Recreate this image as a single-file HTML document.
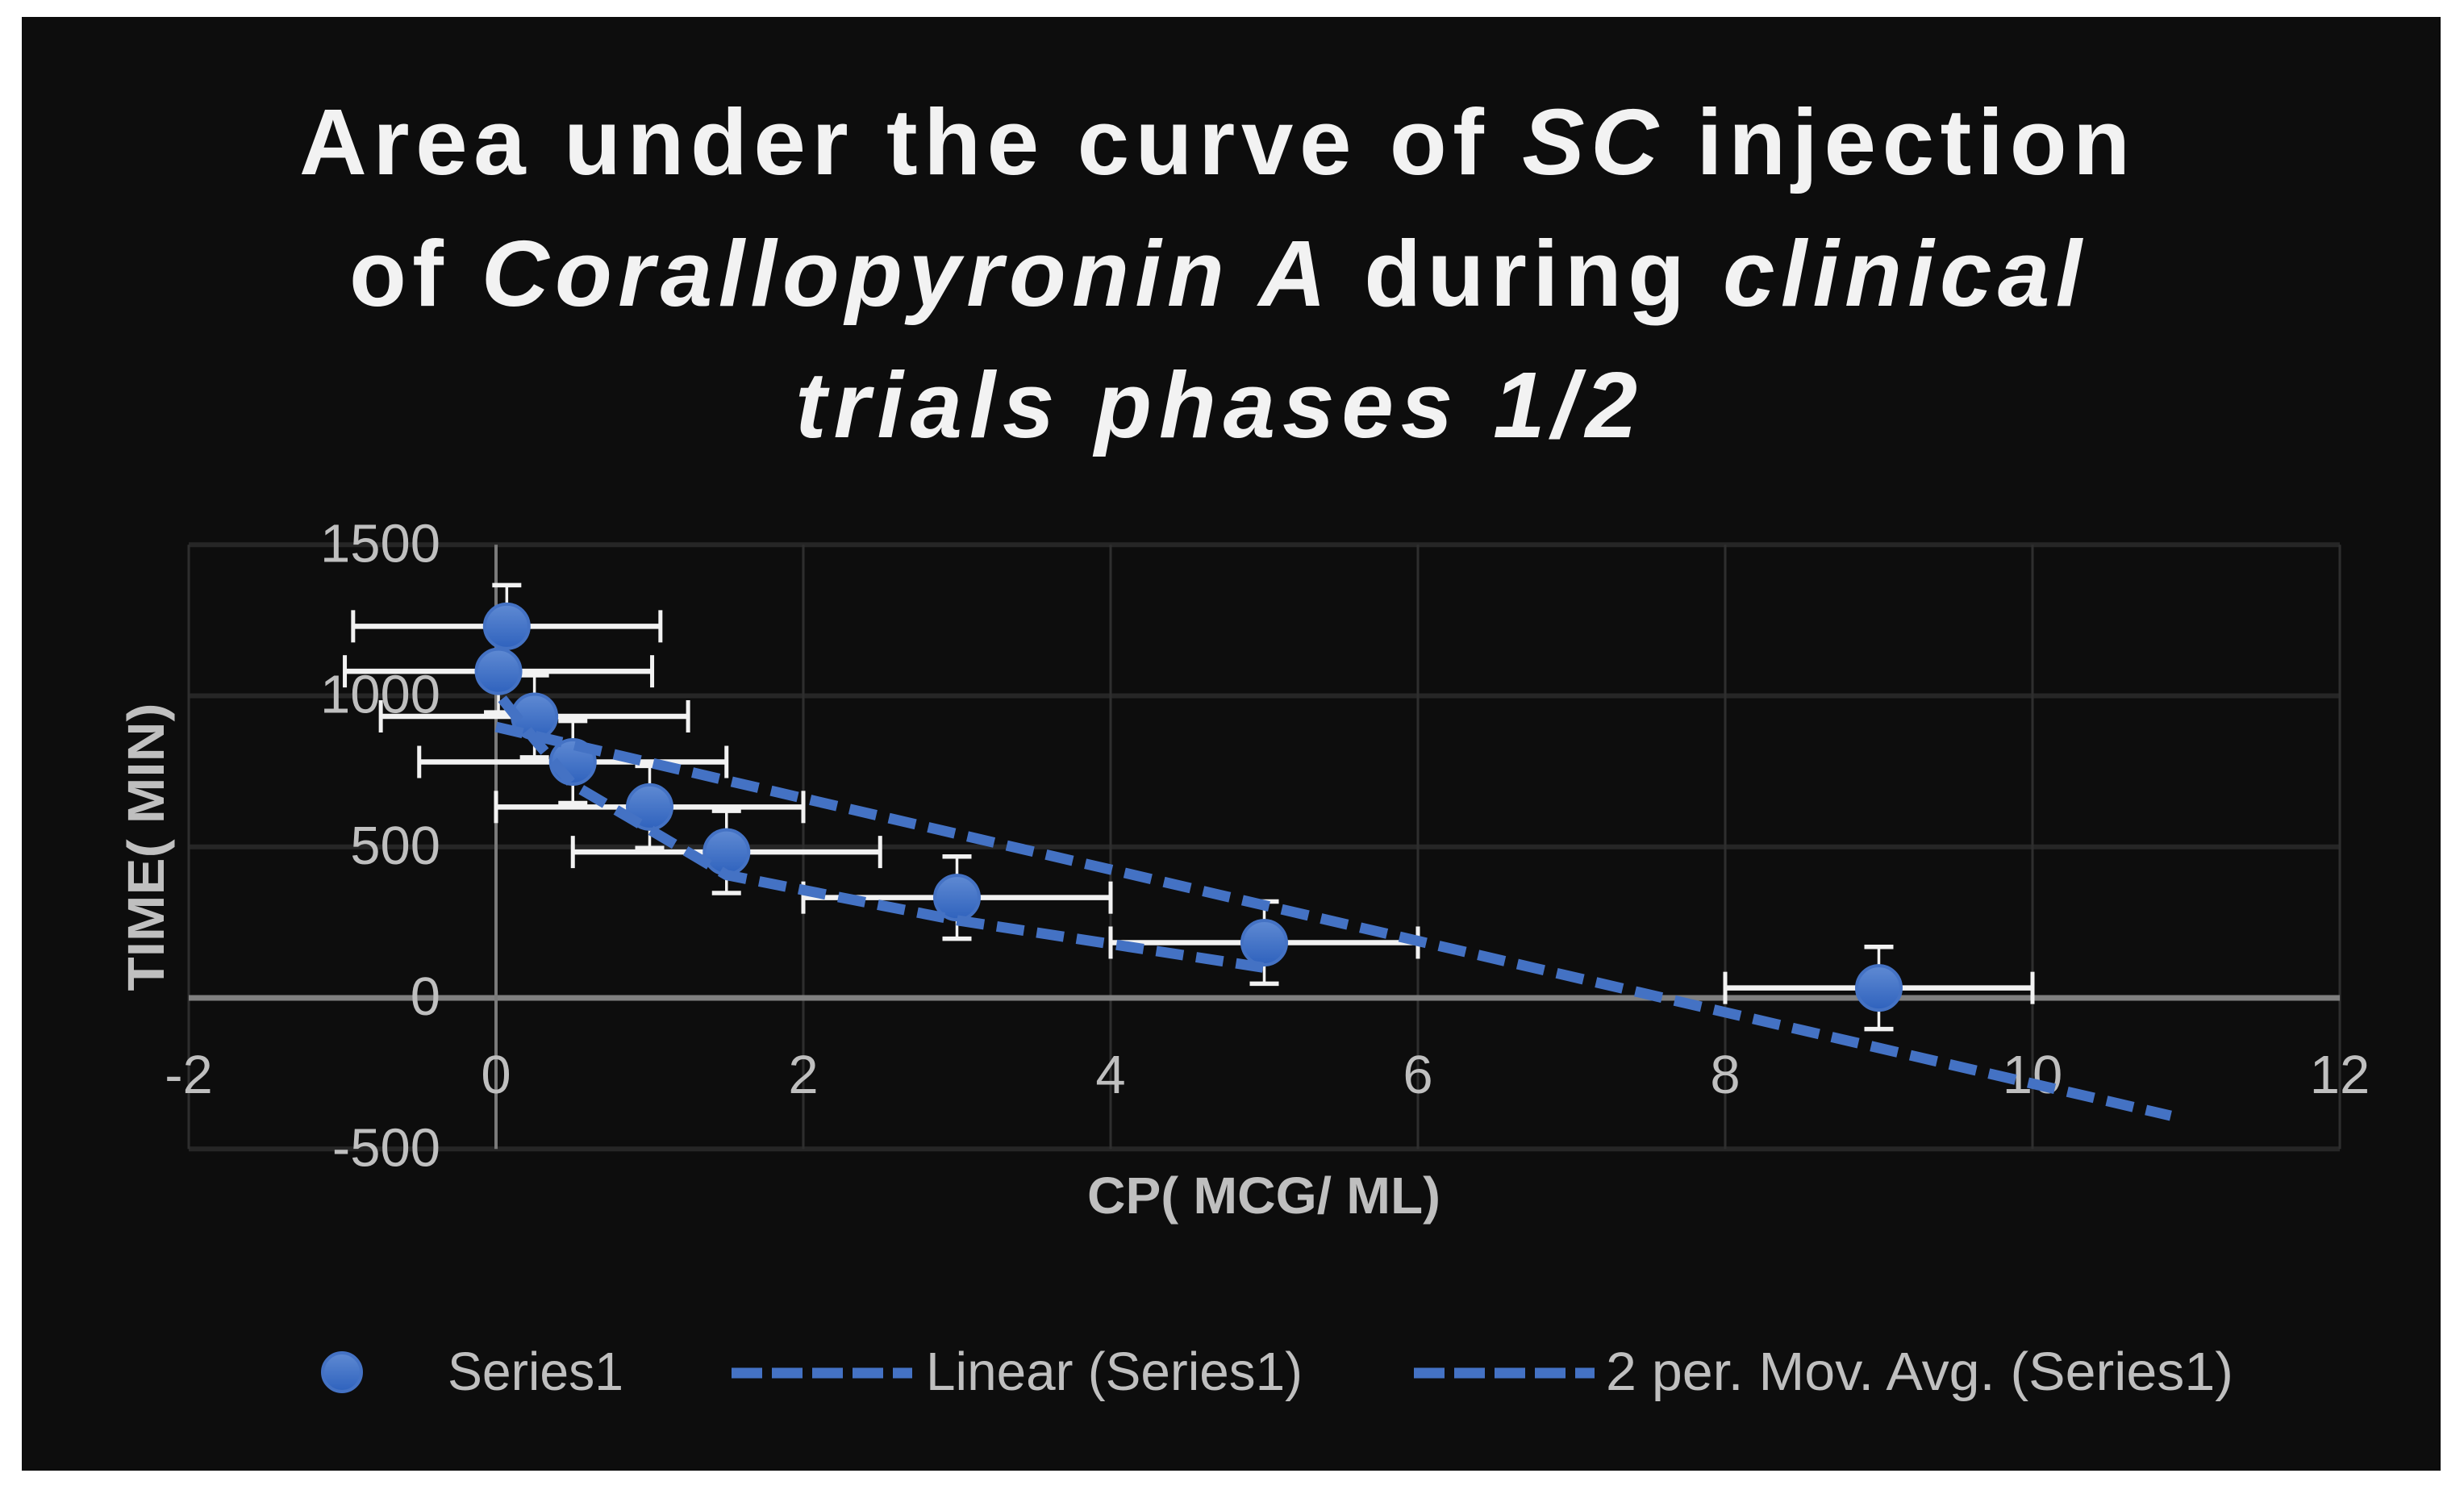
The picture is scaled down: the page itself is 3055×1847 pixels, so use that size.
<!DOCTYPE html>
<html lang="en">
<head>
<meta charset="utf-8">
<title>Area under the curve of SC injection</title>
<style>
  html, body { margin: 0; padding: 0; background: #ffffff; }
  svg { display: block; font-family: "Liberation Sans", sans-serif; }
</style>
</head>
<body>
<svg id="chart" xmlns="http://www.w3.org/2000/svg" width="3055" height="1847" viewBox="0 0 3055 1847">
  <defs>
    <linearGradient id="markerFill" x1="0" y1="0" x2="0" y2="1">
      <stop offset="0" stop-color="#5f8ad3"/>
      <stop offset="1" stop-color="#2f62bd"/>
    </linearGradient>
  </defs>
  <rect x="27" y="21" width="2999" height="1802" fill="#0d0d0d"/>

  <g fill="#f2f2f2" font-weight="bold" font-size="116">
    <text x="371" y="216" textLength="2270" lengthAdjust="spacing">Area under the curve of <tspan font-style="italic">SC</tspan> injection</text>
    <text x="433" y="379" textLength="2148" lengthAdjust="spacing">of <tspan font-style="italic">Corallopyronin A</tspan> during <tspan font-style="italic">clinical</tspan></text>
    <text x="986" y="542" textLength="1044" lengthAdjust="spacing" font-style="italic">trials phases 1/2</text>
  </g>

  <g id="grid"></g>
  <g id="axes"></g>
  <g id="ticks" fill="#bfbfbf" font-size="67"></g>
  <g id="errors" stroke="#f2f2f2"></g>
  <g id="points"></g>
  <g id="trends" fill="none" stroke="#4472c4" stroke-width="13" stroke-dasharray="34 16"></g>

  <text transform="translate(203,1050) rotate(-90)" text-anchor="middle" fill="#bfbfbf" font-weight="bold" font-size="64" textLength="357" lengthAdjust="spacingAndGlyphs">TIME( MIN)</text>
  <text x="1348" y="1504" fill="#bfbfbf" font-weight="bold" font-size="64" textLength="438" lengthAdjust="spacingAndGlyphs">CP( MCG/ ML)</text>

  <g fill="#bfbfbf" font-size="67">
    <g>
      <circle cx="424" cy="1701" r="24" fill="url(#markerFill)" stroke="#4472c4" stroke-width="4"/>
      <text x="555" y="1723" textLength="218" lengthAdjust="spacingAndGlyphs">Series1</text>
    </g>
    <g>
      <line x1="907" y1="1702" x2="1131" y2="1702" stroke="#4472c4" stroke-width="13" stroke-dasharray="38 12"/>
      <text x="1148" y="1723" textLength="467" lengthAdjust="spacingAndGlyphs">Linear (Series1)</text>
    </g>
    <g>
      <line x1="1753" y1="1702" x2="1977" y2="1702" stroke="#4472c4" stroke-width="13" stroke-dasharray="38 12"/>
      <text x="1991" y="1723" textLength="778" lengthAdjust="spacingAndGlyphs">2 per. Mov. Avg. (Series1)</text>
    </g>
  </g>
</svg>

<script>
const concentrations = [0.07, 0.016, 0.25, 0.5, 1, 1.5, 3, 5, 9];
const times = [1230, 1081, 932, 781, 632, 483, 332, 183, 33];
const xErrors = [1, 1, 1, 1, 1, 1, 1, 1, 1];
const yErrors = [136, 136, 136, 136, 136, 136, 136, 136, 136];
const trendX = [0, 10.9];
const trendY = [897, -390];
const movingAvgX = [0.04, 0.25, 0.5, 1, 1.5, 3, 5];
const movingAvgY = [990, 856, 706, 557, 407, 257, 100];
const xTicks = [-2, 0, 2, 4, 6, 8, 10, 12];
const yTicks = [-500, 0, 500, 1000, 1500];

const NS = 'http://www.w3.org/2000/svg';
function xScale(v) { return 615 + v * 190.5; }
function yScale(v) { return 1237 - v * 0.3745; }
function make(tag, parentId, attrs) {
  const node = document.createElementNS(NS, tag);
  for (const key in attrs) node.setAttribute(key, attrs[key]);
  document.getElementById(parentId).appendChild(node);
  return node;
}

const xMin = xTicks[0];
const xMax = xTicks[xTicks.length - 1];
const yMin = yTicks[0];
const yMax = yTicks[yTicks.length - 1];

yTicks.forEach(function (t) {
  if (t !== 0) {
    const el = make('line', 'grid', { x1: xScale(xMin), x2: xScale(xMax), y1: yScale(t), y2: yScale(t), stroke: '#262626', 'stroke-width': 6 });
    
    
  }
  const label = make('text', 'ticks', { x: 546, y: yScale(t) + 21, 'text-anchor': 'end' });
  label.textContent = String(t);
  
  
});

xTicks.forEach(function (t) {
  if (t !== 0) {
    const el = make('line', 'grid', { x1: xScale(t), x2: xScale(t), y1: yScale(yMax), y2: yScale(yMin), stroke: '#2e2e2e', 'stroke-width': 3 });
    
    
  }
  const label = make('text', 'ticks', { x: xScale(t), y: 1355, 'text-anchor': 'middle' });
  label.textContent = String(t);
  
  
});

const xAxisLine = make('line', 'axes', { x1: xScale(xMin), x2: xScale(xMax), y1: yScale(0), y2: yScale(0), stroke: '#808080', 'stroke-width': 7 });


const yAxisLine = make('line', 'axes', { x1: xScale(0), x2: xScale(0), y1: yScale(yMax), y2: yScale(yMin), stroke: '#7a7a7a', 'stroke-width': 4 });



concentrations.forEach(function (c, i) {
  const cx = xScale(c);
  const cy = yScale(times[i]);
  const left = xScale(c - xErrors[i]);
  const right = xScale(c + xErrors[i]);
  const top = yScale(times[i] + yErrors[i]);
  const bottom = yScale(times[i] - yErrors[i]);

  const hBar = make('line', 'errors', { x1: left, x2: right, y1: cy, y2: cy, 'stroke-width': 6.5 });
  
  
  const capL = make('line', 'errors', { x1: left, x2: left, y1: cy - 20, y2: cy + 20, 'stroke-width': 5 });
  
  
  const capR = make('line', 'errors', { x1: right, x2: right, y1: cy - 20, y2: cy + 20, 'stroke-width': 5 });
  
  

  const vBar = make('line', 'errors', { x1: cx, x2: cx, y1: top, y2: bottom, 'stroke-width': 3.5 });
  
  
  const capT = make('line', 'errors', { x1: cx - 18, x2: cx + 18, y1: top, y2: top, 'stroke-width': 5.5 });
  
  
  const capB = make('line', 'errors', { x1: cx - 18, x2: cx + 18, y1: bottom, y2: bottom, 'stroke-width': 5.5 });
  
  
});

concentrations.forEach(function (c, i) {
  const dot = make('circle', 'points', { cx: xScale(c), cy: yScale(times[i]), r: 27.5, fill: 'url(#markerFill)', stroke: '#4472c4', 'stroke-width': 4 });
  
  
});

function linePoints(xs, ys) {
  return xs.map(function (v, i) { return xScale(v) + ',' + yScale(ys[i]); }).join(' ');
}
const linearLine = make('polyline', 'trends', { points: linePoints(trendX, trendY) });


const movingLine = make('polyline', 'trends', { points: linePoints(movingAvgX, movingAvgY) });


</script>
</body>
</html>
